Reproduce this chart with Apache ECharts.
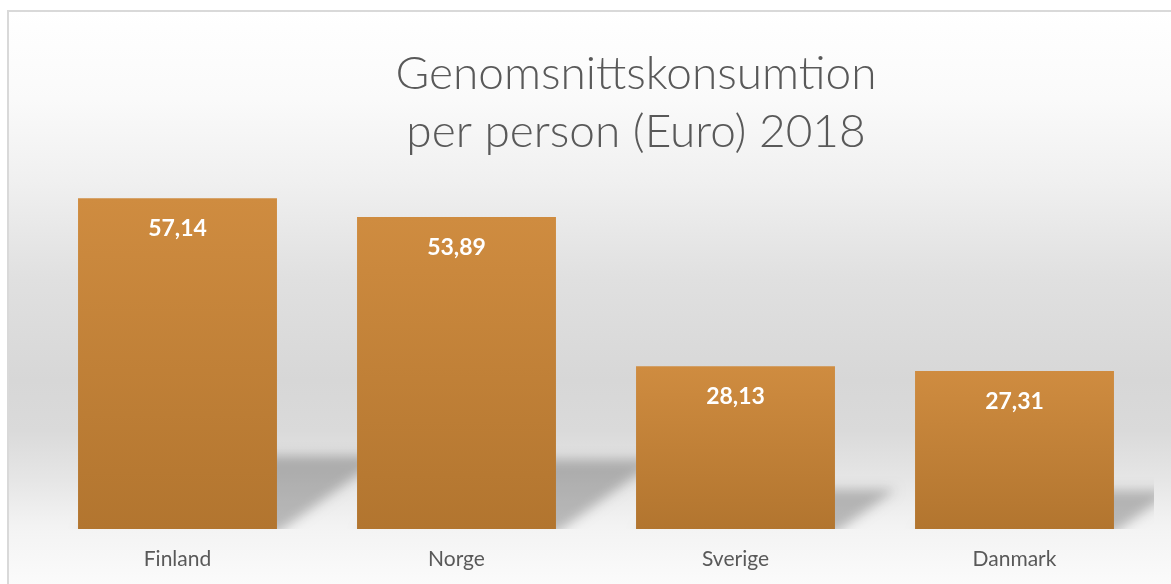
<!DOCTYPE html>
<html>
<head>
<meta charset="utf-8">
<script src="https://cdn.jsdelivr.net/npm/echarts@6/dist/echarts.min.js"></script>
<style>html,body{margin:0;padding:0;background:#fff;}#c{width:1171px;height:584px;}</style>
</head>
<body>
<div id="c"></div>
<script>
const titleText = 'Genomsnittskonsumtion\nper person (Euro) 2018';
const categories = ['Finland', 'Norge', 'Sverige', 'Danmark'];
const values = [57.14, 53.89, 28.13, 27.31];

const chart = echarts.init(document.getElementById('c'));
const BAR_FRAC = 0.713;
const FAR = 4000;

chart.setOption({
  animation: false,
  backgroundColor: '#ffffff',
  graphic: {
    elements: [{
      type: 'rect', z: -100, silent: true,
      shape: { x: 8, y: 11, width: 1200, height: 600 },
      style: {
        stroke: '#d9d9d9', lineWidth: 2,
        fill: new echarts.graphic.LinearGradient(0, 0, 0, 1, [
          { offset: 0, color: '#ffffff' },
          { offset: 0.148, color: '#fafafa' },
          { offset: 0.282, color: '#f0f0f0' },
          { offset: 0.448, color: '#e0e0e0' },
          { offset: 0.615, color: '#d7d7d7' },
          { offset: 0.698, color: '#dadada' },
          { offset: 0.782, color: '#e6e6e6' },
          { offset: 0.857, color: '#f3f3f3' },
          { offset: 0.955, color: '#fbfbfb' },
          { offset: 1, color: '#fcfcfc' }
        ])
      }
    }]
  },
  title: {
    text: titleText,
    left: 631, top: 40, textAlign: 'center',
    textStyle: { fontFamily: 'Lato', fontSize: 46, fontWeight: 300, color: '#595959', lineHeight: 58 }
  },
  grid: { left: 38, right: 17, top: 181.6, bottom: 55 },
  xAxis: {
    type: 'category', data: categories,
    axisLine: { show: false }, axisTick: { show: false },
    axisLabel: { margin: 20, fontFamily: 'Lato', fontSize: 21, color: '#595959' }
  },
  yAxis: { type: 'value', min: 0, max: 60, show: false, splitLine: { show: false } },
  series: [
    {
      type: 'custom', z: 1, clip: true, silent: true,
      encode: { x: 0, y: 1 },
      data: values.map(function (v, i) { return [i, v]; }),
      renderItem: function (params, api) {
        const idx = api.value(0);
        const val = api.value(1);
        const base = api.coord([idx, 0]);
        const top = api.coord([idx, val]);
        const h = base[1] - top[1];
        const w = api.size([1, 0])[0] * BAR_FRAC;
        const xL = base[0] - w / 2 + FAR, xR = base[0] + w / 2 + FAR;
        const dy = 11 + 0.2 * h;
        const dx = 1.4 * dy;
        const y0 = base[1] + 4;
        return {
          type: 'polygon',
          shape: { points: [[xL, y0], [xR, y0], [xR + dx, y0 - dy], [xL + dx, y0 - dy]] },
          style: {
            fill: '#000',
            shadowBlur: 12, shadowColor: 'rgba(0,0,0,0.24)',
            shadowOffsetX: -FAR, shadowOffsetY: 0
          }
        };
      }
    },
    {
      type: 'bar', z: 3,
      data: values,
      barWidth: (BAR_FRAC * 100) + '%',
      itemStyle: {
        color: new echarts.graphic.LinearGradient(0, 0, 0, 1, [
          { offset: 0, color: '#cf8c40' },
          { offset: 1, color: '#b2752f' }
        ])
      },
      label: {
        show: true, position: 'insideTop', distance: 19,
        fontFamily: 'Lato', fontWeight: 'bold', fontSize: 23, color: '#ffffff',
        formatter: function (p) { return p.value.toFixed(2).replace('.', ','); }
      }
    }
  ]
});
</script>
</body>
</html>
